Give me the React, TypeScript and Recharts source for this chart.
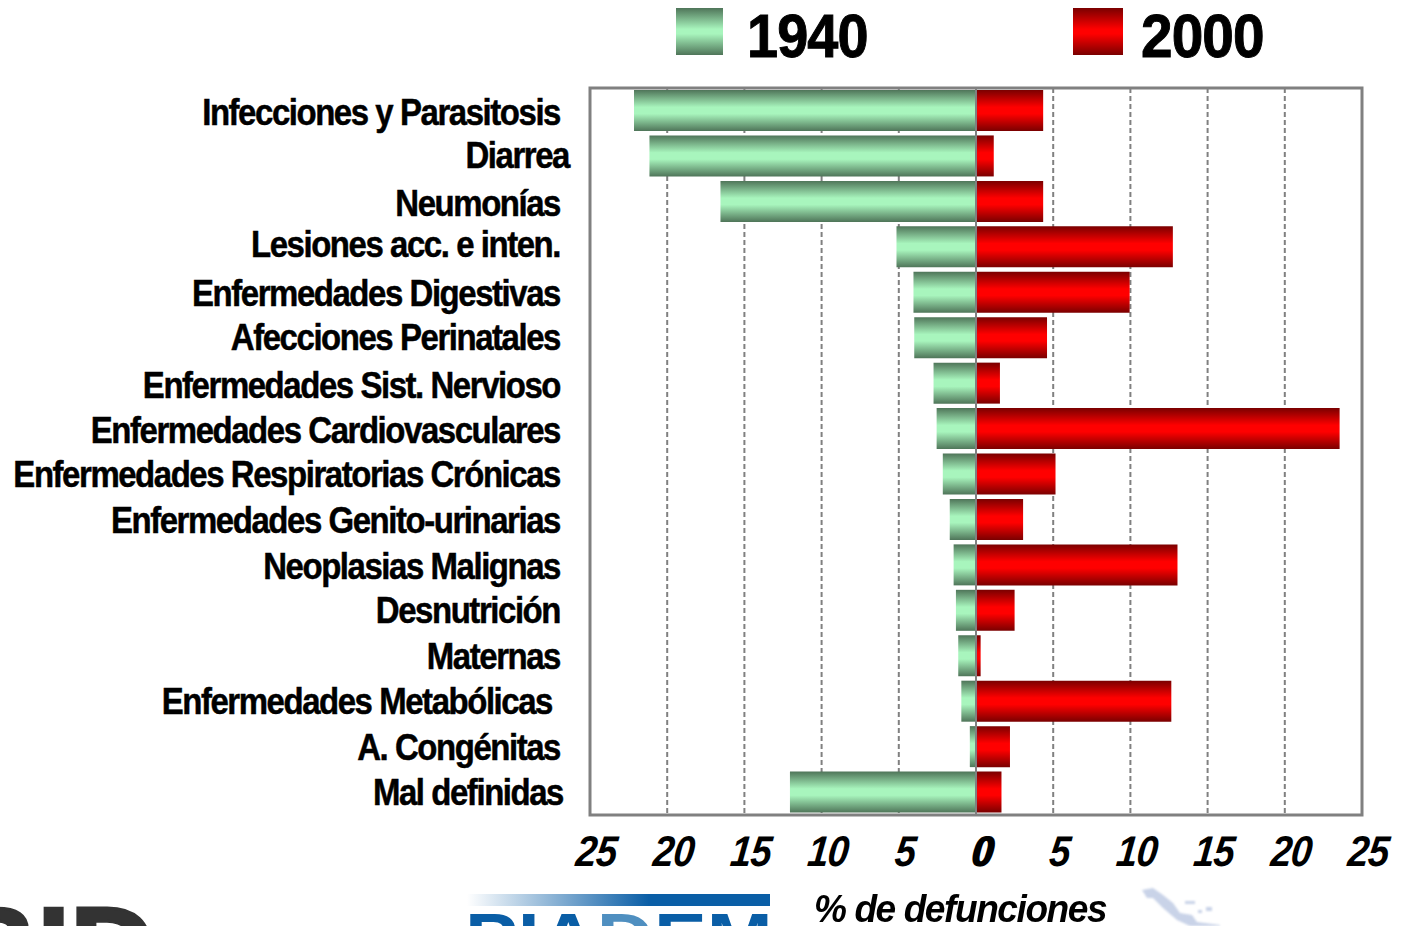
import React from 'react';
import { BarChart, Bar, XAxis, YAxis, CartesianGrid, ReferenceArea, ReferenceLine } from 'recharts';

const categories = [
  'Infecciones y Parasitosis', 'Diarrea', 'Neumonías', 'Lesiones acc. e inten.',
  'Enfermedades Digestivas', 'Afecciones Perinatales', 'Enfermedades Sist. Nervioso',
  'Enfermedades Cardiovasculares', 'Enfermedades Respiratorias Crónicas', 'Enfermedades Genito-urinarias',
  'Neoplasias Malignas', 'Desnutrición', 'Maternas', 'Enfermedades Metabólicas', 'A. Congénitas', 'Mal definidas',
];
const values1940 = [22.15, 21.15, 16.55, 5.15, 4.05, 4.0, 2.75, 2.55, 2.15, 1.7, 1.45, 1.3, 1.15, 0.95, 0.4, 12.05];
const values2000 = [4.35, 1.15, 4.35, 12.75, 9.95, 4.6, 1.55, 23.55, 5.15, 3.05, 13.05, 2.5, 0.3, 12.65, 2.2, 1.65];
const xTicks = [-25, -20, -15, -10, -5, 0, 5, 10, 15, 20, 25];

const data = categories.map((name, i) => ({ name, y1940: -values1940[i], y2000: values2000[i] }));

const FONT = '"Liberation Sans", Arial, sans-serif';

// the labels in the original are hand placed, so they don't all sit on the band centre
const labelNudge: Record<string, number> = {
  Diarrea: -2, 'Lesiones acc. e inten.': -4, 'Afecciones Perinatales': -2, 'Enfermedades Sist. Nervioso': 1,
  'Enfermedades Respiratorias Crónicas': -1, 'Enfermedades Genito-urinarias': -1, Desnutrición: -2, Maternas: -1,
  'Enfermedades Metabólicas': -1, 'A. Congénitas': -1, 'Mal definidas': -1,
};

const CategoryTick = ({ x, y, payload }: any) => {
  // a few labels sit off the common right edge too
  const shift = payload.value === 'Diarrea' ? 9 : payload.value === 'Mal definidas' ? 3 : payload.value.startsWith('Enfermedades Metab') ? -8 : 0;
  const dy = labelNudge[payload.value] || 0;
  return (
    <g transform={`translate(${x - 22 + shift},${y + 14 + dy}) scale(0.89,1)`}>
      <text textAnchor="end" fontFamily={FONT} fontWeight="bold" fontSize={37} letterSpacing={-1.6} fill="#000" stroke="#000" strokeWidth={0.5}>
        {payload.value}
      </text>
    </g>
  );
};

const ValueTick = ({ x, y, payload }: any) => {
  const label = String(Math.abs(payload.value));
  const draw = (dx: number) => (
    <g transform={`translate(${x + 5 + dx},${y + 43}) skewX(-6) scale(0.88,1)`}>
      <text textAnchor="middle" fontFamily={FONT} fontWeight="bold" fontStyle="italic" fontSize={43} letterSpacing={-1} fill="#000">
        {label}
      </text>
    </g>
  );
  // the zero is printed by both half-axes, slightly off
  return payload.value === 0 ? <g>{draw(-1)}{draw(1)}</g> : draw(0);
};

const abs = { position: 'absolute' as const };

const Legend = () => (
  <>
    <div style={{ ...abs, left: 676, top: 8, width: 47, height: 47, background: 'linear-gradient(#4f7559, #a8f5bd 45%, #a8f5bd 55%, #4f7559)' }} />
    <div style={{ ...abs, left: 747, top: 0, fontFamily: FONT, fontWeight: 'bold', fontSize: 62, letterSpacing: -1, color: '#000', WebkitTextStroke: '1px #000', transform: 'scaleX(0.9)', transformOrigin: 'left' }}>1940</div>
    <div style={{ ...abs, left: 1073, top: 8, width: 50, height: 47, background: 'linear-gradient(#7a0000, #ff0000 45%, #ff0000 55%, #7a0000)' }} />
    <div style={{ ...abs, left: 1141, top: 0, fontFamily: FONT, fontWeight: 'bold', fontSize: 62, letterSpacing: -1, color: '#000', WebkitTextStroke: '1px #000', transform: 'scaleX(0.915)', transformOrigin: 'left' }}>2000</div>
  </>
);

const Footer = () => (
  <>
    <div style={{ ...abs, left: 814, top: 893, lineHeight: '31px', fontFamily: FONT, fontWeight: 'bold', fontStyle: 'italic', fontSize: 39, letterSpacing: -1.5, color: '#000', transform: 'scaleX(0.95)', transformOrigin: 'left', whiteSpace: 'nowrap' }}>% de defunciones</div>
    <div style={{ ...abs, left: 467, top: 894, width: 303, height: 12, background: 'linear-gradient(90deg, #ffffff, #0a5ea6 60%)' }} />
    <div style={{ ...abs, left: 465, top: 899, fontFamily: FONT, fontWeight: 'bold', fontSize: 70, color: '#0a5ea6', transform: 'scaleX(1.13)', transformOrigin: 'left', whiteSpace: 'nowrap' }}>PIA<span style={{ color: '#4f8fc0' }}>D</span>EM</div>
    <div style={{ ...abs, left: -48, top: 881, fontFamily: FONT, fontWeight: 'bold', fontSize: 118, color: '#333333', WebkitTextStroke: '3px #333333', whiteSpace: 'nowrap' }}>BID</div>
    <svg style={{ ...abs, left: 1135, top: 880, filter: 'blur(1px)' }} width={100} height={46}>
      <path d="M7 10 L18 8 L28 15 L38 23 L45 33 L57 35 L62 42 L85 45 L85 46 L55 46 L42 40 L28 28 L18 18 L12 18 Z" fill="#c9d3e8" />
      <rect x={50} y={21} width={10} height={3} fill="#c9d3e8" />
      <rect x={63} y={30} width={4} height={3} fill="#c9d3e8" />
      <rect x={71} y={27} width={6} height={4} fill="#c9d3e8" />
    </svg>
  </>
);

export default function App() {
  return (
    <div style={{ position: 'absolute', left: 0, top: 0, width: 1401, height: 926, overflow: 'hidden', background: '#fff' }}>
      <BarChart
        width={1401}
        height={926}
        data={data}
        layout="vertical"
        stackOffset="sign"
        barCategoryGap={2}
        margin={{ top: 88, right: 39, bottom: 0, left: 0 }}
      >
        <defs>
          <linearGradient id="green" x1="0" y1="0" x2="0" y2="1">
            <stop offset="0" stopColor="#4f7559" />
            <stop offset="0.42" stopColor="#a8f5bd" />
            <stop offset="0.58" stopColor="#a8f5bd" />
            <stop offset="1" stopColor="#4f7559" />
          </linearGradient>
          <linearGradient id="red" x1="0" y1="0" x2="0" y2="1">
            <stop offset="0" stopColor="#7a0000" />
            <stop offset="0.42" stopColor="#ff0000" />
            <stop offset="0.58" stopColor="#ff0000" />
            <stop offset="1" stopColor="#7a0000" />
          </linearGradient>
        </defs>
        <CartesianGrid horizontal={false} stroke="#808080" strokeWidth={2} strokeDasharray="5 3" />
        <XAxis type="number" domain={[-25, 25]} ticks={xTicks} interval={0} axisLine={false} tickLine={false} height={111} tick={<ValueTick />} />
        <YAxis type="category" dataKey="name" width={590} interval={0} axisLine={false} tickLine={false} tick={<CategoryTick />} />
        <Bar dataKey="y1940" stackId="a" fill="url(#green)" isAnimationActive={false} />
        <Bar dataKey="y2000" stackId="a" fill="url(#red)" isAnimationActive={false} />
        <ReferenceLine x={0} stroke="#808080" strokeWidth={2} />
        <ReferenceArea x1={-25} x2={25} fill="none" stroke="#808080" strokeWidth={3} />
      </BarChart>
      <Legend />
      <Footer />
    </div>
  );
}
